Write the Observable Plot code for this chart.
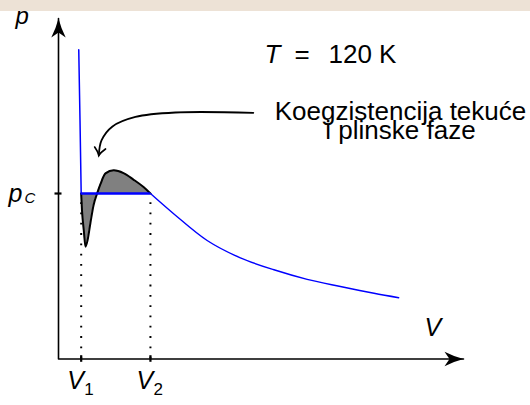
<!DOCTYPE html>
<html>
<head>
<meta charset="utf-8">
<script src="https://cdn.jsdelivr.net/npm/d3@7"></script>
<script src="https://cdn.jsdelivr.net/npm/@observablehq/plot@0.6"></script>
<style>
  html, body { margin: 0; padding: 0; background: #ffffff; }
  #band { height: 11px; background: #ede2d6; }
  #chart svg { display: block; overflow: visible; }
</style>
</head>
<body>
<div id="band"></div>
<div id="chart"></div>
<script>
// Axis extents (arbitrary units of volume V and pressure p)
const Vmax = 10;
const pMax = 10;

// Coexistence pressure and the two volumes of the Maxwell construction
const pC = 4.86;
const V1 = 0.56;
const V2 = 2.27;

// Liquid branch of the isotherm (steep part)
const liquidV = [0.50, 0.531, 0.56];
const liquidP = [9.08, 7.01, 4.86];

// Van der Waals loop between V1 and V2
const loopV = [0.56, 0.58, 0.625, 0.667, 0.716, 0.79, 0.864, 0.956, 1.04, 1.16, 1.365, 1.605, 1.85, 2.10, 2.27];
const loopP = [4.86, 4.37, 3.77, 3.30, 3.48, 4.01, 4.51, 4.87, 5.15, 5.45, 5.54, 5.46, 5.27, 5.05, 4.86];

// Gas branch of the isotherm
const gasV = [2.27, 2.85, 3.67, 4.49, 5.32, 6.14, 6.96, 7.79, 8.40];
const gasP = [4.86, 4.26, 3.48, 2.97, 2.62, 2.34, 2.13, 1.93, 1.80];

// Curved pointer from the annotation down to the loop
const pointerV = [4.81, 2.89, 1.90, 1.333, 1.062, 0.995];
const pointerP = [7.23, 7.24, 7.11, 6.83, 6.42, 5.98];

// Texts
const tempSymbol = "T";
const tempValue = "120 K";
const annotation = "Koegzistencija tekuće\ni plinske faze";
const volumeSubs = ["1", "2"];

const zip = (xs, ys) => xs.map((V, i) => ({V, p: ys[i]}));
const liquid = zip(liquidV, liquidP);
const loop = zip(loopV, loopP);
const gas = zip(gasV, gasP);
const pointer = zip(pointerV, pointerP);
const pointerTip = pointer.slice(-1);
const axisPath = [{V: 0, p: pMax}, {V: 0, p: 0}, {V: Vmax, p: 0}];
const axisTips = [{V: 0, p: pMax, rot: 0}, {V: Vmax, p: 0, rot: 90}];

// Stealth-style filled arrowhead, tip at the origin, pointing up
const stealth = {
  draw(ctx) {
    ctx.moveTo(0, 0);
    ctx.quadraticCurveTo(2.6, 10, 7.2, 19);
    ctx.lineTo(0, 14);
    ctx.lineTo(-7.2, 19);
    ctx.quadraticCurveTo(-2.6, 10, 0, 0);
    ctx.closePath();
  }
};

// Open curved arrowhead for the pointer, tip at the origin, pointing up
const openHead = {
  draw(ctx) {
    ctx.moveTo(-5.5, 7.5);
    ctx.quadraticCurveTo(-1.2, 3.2, 0, 0);
    ctx.quadraticCurveTo(1.2, 3.2, 5.5, 7.5);
  }
};

const blue = "#0000ff";
const font = "Liberation Sans";
const math = {fontFamily: font, fontStyle: "italic", fill: "black", lineAnchor: "bottom", textAnchor: "start", stroke: "none"};
const upright = {fontFamily: font, fill: "black", lineAnchor: "bottom", stroke: "none"};

const chart = Plot.plot({
  width: 530,
  height: 394,
  marginLeft: 58,
  marginRight: 67,
  marginTop: 7,
  marginBottom: 46.5,
  x: {domain: [0, Vmax], axis: null},
  y: {domain: [0, pMax], axis: null},
  style: {fontFamily: font, background: "white", overflow: "visible"},
  marks: [
    // shaded areas of the loop relative to the coexistence pressure
    Plot.areaY(loop, {x: "V", y1: pC, y2: "p", curve: "monotone-x", fill: "#808080"}),
    // dotted drop lines at V1 and V2
    Plot.ruleX([V1, V2], {x: d => d, y1: 0, y2: pC, stroke: "black", strokeWidth: 2, strokeDasharray: "1.8,8.5"}),
    Plot.line(loop, {x: "V", y: "p", curve: "monotone-x", stroke: "black", strokeWidth: 2}),
    // isotherm with the Maxwell plateau
    Plot.line(liquid, {x: "V", y: "p", stroke: blue, strokeWidth: 1.5}),
    Plot.ruleY([pC], {y: d => d, x1: V1, x2: V2, stroke: blue, strokeWidth: 2.3}),
    Plot.line(gas, {x: "V", y: "p", curve: "catmull-rom", stroke: blue, strokeWidth: 1.4}),
    // axes
    Plot.line(axisPath, {x: "V", y: "p", stroke: "black", strokeWidth: 1.6}),
    Plot.dot(axisTips, {x: "V", y: "p", rotate: "rot", symbol: stealth, fill: "black", stroke: "none"}),
    Plot.ruleX([V1, V2], {x: d => d, y1: 0, y2: 0, insetTop: -3.3, insetBottom: -3.3, stroke: "black", strokeWidth: 2.2}),
    Plot.ruleY([pC], {y: d => d, x1: 0, x2: 0, insetLeft: -3.5, insetRight: -3.5, stroke: "black", strokeWidth: 2.2}),
    // pointer to the coexistence region
    Plot.line(pointer, {x: "V", y: "p", curve: "catmull-rom", stroke: "black", strokeWidth: 1.8}),
    Plot.dot(pointerTip, {x: "V", y: "p", rotate: 190, symbol: openHead, fill: "none", stroke: "black", strokeWidth: 1.7, strokeLinecap: "round"}),
    // axis labels
    Plot.text(["p"], {...math, text: d => d, frameAnchor: "top-left", dx: -43, dy: 5, fontSize: 24}),
    Plot.text(["V"], {...math, text: d => d, frameAnchor: "bottom-right", dx: -39, dy: -23.5, fontSize: 25}),
    Plot.text([pC], {...math, y: d => d, x: 0, text: () => "p", dx: -50, dy: 8.7, fontSize: 25}),
    Plot.text([pC], {...math, y: d => d, x: 0, text: () => "C", dx: -34, dy: 9.5, fontSize: 15}),
    Plot.text([V1, V2], {...math, x: d => d, y: 0, text: () => "V", dx: -14, dy: 29.5, fontSize: 25}),
    Plot.text([V1, V2], {...upright, textAnchor: "start", x: d => d, y: 0, text: (d, i) => volumeSubs[i], dx: 3, dy: 35.5, fontSize: 17}),
    // temperature of the isotherm
    Plot.text([tempSymbol], {...math, text: d => d, frameAnchor: "top-left", dx: 206, dy: 44, fontSize: 26}),
    Plot.text(["="], {...upright, textAnchor: "middle", text: d => d, frameAnchor: "top-left", dx: 243.5, dy: 44, fontSize: 26}),
    Plot.text([tempValue], {...upright, textAnchor: "start", text: d => d, frameAnchor: "top-left", dx: 270, dy: 44, fontSize: 26}),
    // annotation
    Plot.text([annotation], {...upright, textAnchor: "middle", text: d => d, frameAnchor: "top-left", dx: 342, dy: 120, fontSize: 26, lineHeight: 0.7})
  ]
});

document.getElementById("chart").appendChild(chart);
</script>
</body>
</html>
